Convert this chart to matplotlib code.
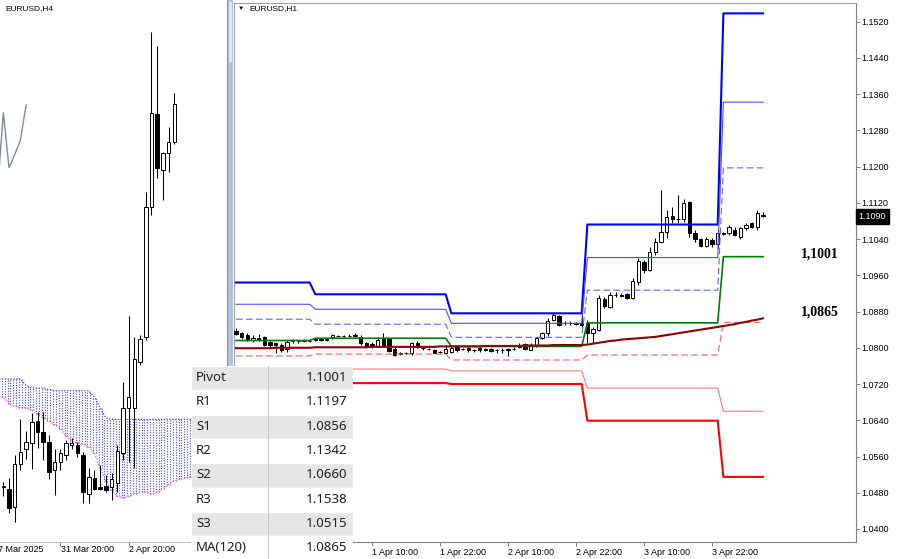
import matplotlib
matplotlib.use('Agg')
import matplotlib.pyplot as plt
import matplotlib.transforms as mtransforms
from matplotlib.patches import Rectangle
import numpy as np

W, H = 900, 559

# ---------------- left pane : EURUSD,H4 (bar 0 = first candle) ----------------
h4_open = [1.0796, 1.0795, 1.0781, 1.0814, 1.0825, 1.0830, 1.0847, 1.0838, 1.0831, 1.0809,
           1.0815, 1.0821, 1.0828, 1.0828, 1.0821, 1.0791, 1.0803, 1.0796, 1.0797, 1.0796,
           1.0799, 1.0822, 1.0857, 1.0857, 1.0892, 1.0911, 1.1011, 1.1082, 1.1039, 1.1052,
           1.1061]
h4_high = [1.0800, 1.0803, 1.0821, 1.0848, 1.0839, 1.0853, 1.0854, 1.0854, 1.0836, 1.0825,
           1.0825, 1.0832, 1.0834, 1.0831, 1.0823, 1.0811, 1.0809, 1.0813, 1.0805, 1.0807,
           1.0828, 1.0877, 1.0927, 1.0911, 1.0913, 1.1022, 1.1145, 1.1134, 1.1053, 1.1072,
           1.1098]
h4_low = [1.0789, 1.0776, 1.0769, 1.0809, 1.0818, 1.0810, 1.0826, 1.0817, 1.0802, 1.0790,
          1.0809, 1.0817, 1.0825, 1.0819, 1.0784, 1.0784, 1.0794, 1.0794, 1.0792, 1.0786,
          1.0792, 1.0817, 1.0815, 1.0811, 1.0890, 1.0909, 1.1005, 1.1033, 1.1016, 1.1038,
          1.1059]
h4_close = [1.0797, 1.0780, 1.0814, 1.0823, 1.0831, 1.0846, 1.0838, 1.0831, 1.0808, 1.0815,
            1.0822, 1.0830, 1.0830, 1.0822, 1.0792, 1.0804, 1.0795, 1.0795, 1.0794, 1.0802,
            1.0824, 1.0857, 1.0865, 1.0894, 1.0910, 1.1011, 1.1083, 1.1041, 1.1052, 1.1061,
            1.1090]
h4_tick_bars = [-2, 10, 22]
h4_tick_labels = ['27 Mar 2025', '31 Mar 20:00', '2 Apr 20:00']

# ichimoku cloud, bars -1..39
kumo_first = -1
span_a = [1.0879, 1.0879, 1.0879, 1.0879, 1.0879, 1.0874, 1.0872, 1.0872, 1.0872, 1.0871,
          1.0870, 1.0870, 1.0870, 1.0870, 1.0870, 1.0870, 1.0870, 1.0865, 1.0857, 1.0849,
          1.0848, 1.0848, 1.0848, 1.0848, 1.0848, 1.0848, 1.0848, 1.0848, 1.0848, 1.0848,
          1.0848, 1.0848, 1.0848, 1.0848, 1.0848, 1.0848, 1.0848, 1.0848, 1.0848, 1.0848,
          1.0848]
span_b = [1.0865, 1.0865, 1.0860, 1.0858, 1.0857, 1.0857, 1.0855, 1.0852, 1.0849, 1.0847,
          1.0844, 1.0841, 1.0835, 1.0831, 1.0830, 1.0829, 1.0827, 1.0822, 1.0811, 1.0800,
          1.0794, 1.0789, 1.0788, 1.0789, 1.0791, 1.0792, 1.0792, 1.0791, 1.0792, 1.0795,
          1.0798, 1.0801, 1.0802, 1.0803, 1.0804, 1.0804, 1.0804, 1.0804, 1.0804, 1.0804,
          1.0804]
chikou_bars = [-1, 0, 1, 2, 3, 4]
chikou = [1.1024, 1.1083, 1.1041, 1.1051, 1.1062, 1.1089]

# ---------------- right pane : EURUSD,H1 (bar 0 = 1 Apr 10:00) ----------------
h1_first = -24
h1_open = [1.0838, 1.0832, 1.0828, 1.0817, 1.0821, 1.0824, 1.0813, 1.0811, 1.0806, 1.0797,
           1.0815, 1.0814, 1.0815, 1.0816, 1.0817, 1.0819, 1.0818, 1.0823, 1.0827, 1.0826,
           1.0827, 1.0827, 1.0824, 1.0811, 1.0808, 1.0802, 1.0820, 1.0819, 1.0797, 1.0788,
           1.0788, 1.0788, 1.0811, 1.0800, 1.0798, 1.0795, 1.0790, 1.0789, 1.0791, 1.0801,
           1.0797, 1.0799, 1.0794, 1.0799, 1.0798, 1.0798, 1.0794, 1.0795, 1.0795, 1.0797,
           1.0806, 1.0808, 1.0795, 1.0804, 1.0821, 1.0832, 1.0861, 1.0869, 1.0855, 1.0854,
           1.0854, 1.0855, 1.0855, 1.0832, 1.0839, 1.0907, 1.0891, 1.0916, 1.0916, 1.0919,
           1.0909, 1.0946, 1.0990, 1.0972, 1.1012, 1.1034, 1.1056, 1.1091, 1.1084, 1.1084,
           1.1122, 1.1054, 1.1039, 1.1025, 1.1038, 1.1029, 1.1052, 1.1053, 1.1061, 1.1045,
           1.1064, 1.1075, 1.1067, 1.1093]
h1_high = [1.0843, 1.0835, 1.0832, 1.0828, 1.0830, 1.0826, 1.0817, 1.0813, 1.0810, 1.0817,
           1.0819, 1.0818, 1.0819, 1.0819, 1.0821, 1.0821, 1.0821, 1.0830, 1.0829, 1.0829,
           1.0830, 1.0833, 1.0828, 1.0813, 1.0813, 1.0823, 1.0832, 1.0821, 1.0801, 1.0791,
           1.0791, 1.0813, 1.0815, 1.0802, 1.0800, 1.0797, 1.0793, 1.0806, 1.0806, 1.0806,
           1.0800, 1.0801, 1.0797, 1.0801, 1.0800, 1.0800, 1.0797, 1.0799, 1.0799, 1.0802,
           1.0811, 1.0811, 1.0810, 1.0824, 1.0835, 1.0865, 1.0876, 1.0872, 1.0860, 1.0860,
           1.0857, 1.0925, 1.0861, 1.0846, 1.0916, 1.0913, 1.0924, 1.0922, 1.0921, 1.0921,
           1.0953, 1.0998, 1.0994, 1.1023, 1.1042, 1.1148, 1.1104, 1.1111, 1.1137, 1.1128,
           1.1125, 1.1060, 1.1043, 1.1045, 1.1042, 1.1060, 1.1056, 1.1071, 1.1067, 1.1067,
           1.1076, 1.1078, 1.1103, 1.1100]
h1_low = [1.0828, 1.0819, 1.0816, 1.0813, 1.0816, 1.0804, 1.0802, 1.0788, 1.0791, 1.0791,
          1.0811, 1.0811, 1.0813, 1.0813, 1.0815, 1.0816, 1.0816, 1.0820, 1.0824, 1.0824,
          1.0825, 1.0824, 1.0806, 1.0802, 1.0800, 1.0801, 1.0801, 1.0790, 1.0782, 1.0784,
          1.0786, 1.0784, 1.0800, 1.0796, 1.0795, 1.0788, 1.0788, 1.0788, 1.0788, 1.0791,
          1.0795, 1.0791, 1.0791, 1.0791, 1.0792, 1.0790, 1.0788, 1.0788, 1.0782, 1.0794,
          1.0799, 1.0795, 1.0794, 1.0802, 1.0819, 1.0826, 1.0860, 1.0848, 1.0850, 1.0850,
          1.0850, 1.0846, 1.0810, 1.0810, 1.0838, 1.0887, 1.0887, 1.0912, 1.0912, 1.0907,
          1.0907, 1.0939, 1.0966, 1.0970, 1.1005, 1.1031, 1.1042, 1.1076, 1.1075, 1.1078,
          1.1045, 1.1034, 1.1022, 1.1022, 1.1023, 1.1020, 1.1049, 1.1049, 1.1047, 1.1039,
          1.1060, 1.1064, 1.1060, 1.1089]
h1_close = [1.0830, 1.0824, 1.0819, 1.0821, 1.0820, 1.0806, 1.0806, 1.0806, 1.0795, 1.0813,
            1.0814, 1.0815, 1.0816, 1.0816, 1.0819, 1.0818, 1.0819, 1.0828, 1.0826, 1.0827,
            1.0827, 1.0829, 1.0810, 1.0804, 1.0803, 1.0818, 1.0803, 1.0793, 1.0784, 1.0787,
            1.0789, 1.0810, 1.0802, 1.0799, 1.0797, 1.0789, 1.0791, 1.0797, 1.0799, 1.0795,
            1.0798, 1.0794, 1.0795, 1.0794, 1.0794, 1.0793, 1.0795, 1.0796, 1.0797, 1.0798,
            1.0801, 1.0797, 1.0804, 1.0821, 1.0832, 1.0860, 1.0872, 1.0850, 1.0854, 1.0855,
            1.0852, 1.0850, 1.0832, 1.0841, 1.0909, 1.0892, 1.0916, 1.0917, 1.0915, 1.0909,
            1.0947, 1.0992, 1.0972, 1.1012, 1.1034, 1.1056, 1.1089, 1.1084, 1.1085, 1.1120,
            1.1053, 1.1039, 1.1025, 1.1039, 1.1029, 1.1053, 1.1053, 1.1066, 1.1049, 1.1064,
            1.1071, 1.1067, 1.1097, 1.1090]
ma120 = [1.0799, 1.0799, 1.0799, 1.0799, 1.0799, 1.0799, 1.0799, 1.0800, 1.0800, 1.0800,
         1.0800, 1.0800, 1.0800, 1.0800, 1.0801, 1.0801, 1.0801, 1.0801, 1.0801, 1.0801,
         1.0801, 1.0801, 1.0801, 1.0801, 1.0802, 1.0802, 1.0802, 1.0802, 1.0802, 1.0802,
         1.0802, 1.0802, 1.0802, 1.0802, 1.0802, 1.0802, 1.0803, 1.0803, 1.0803, 1.0803,
         1.0803, 1.0803, 1.0803, 1.0803, 1.0804, 1.0804, 1.0804, 1.0804, 1.0804, 1.0804,
         1.0804, 1.0805, 1.0805, 1.0805, 1.0805, 1.0805, 1.0806, 1.0806, 1.0806, 1.0806,
         1.0806, 1.0806, 1.0807, 1.0809, 1.0811, 1.0813, 1.0815, 1.0816, 1.0818, 1.0819,
         1.0820, 1.0821, 1.0822, 1.0823, 1.0824, 1.0826, 1.0828, 1.0830, 1.0832, 1.0834,
         1.0836, 1.0838, 1.0840, 1.0842, 1.0844, 1.0846, 1.0848, 1.0850, 1.0852, 1.0855,
         1.0857, 1.0860, 1.0862, 1.0865]

# daily pivot levels: 31 Mar, 1 Apr, 2 Apr, 3 Apr, 4 Apr
day_start_bars = [-10, 14, 38, 62]
r3 = [1.0944, 1.0918, 1.0876, 1.1072, 1.1538]
r2 = [1.0896, 1.0885, 1.0854, 1.0999, 1.1342]
r1 = [1.0863, 1.0852, 1.0823, 1.0927, 1.1197]
pivot = [1.0816, 1.0821, 1.0803, 1.0855, 1.1001]
s1 = [1.0782, 1.0786, 1.0773, 1.0784, 1.0856]
s2 = [1.0756, 1.0753, 1.0749, 1.0711, 1.0660]
s3 = [1.0723, 1.0722, 1.0720, 1.0639, 1.0515]

h1_tick_bars = [0, 12, 24, 36, 48, 60]
h1_tick_labels = ['1 Apr 10:00', '1 Apr 22:00', '2 Apr 10:00',
                  '2 Apr 22:00', '3 Apr 10:00', '3 Apr 22:00']
price_ticks = [1.0400, 1.0480, 1.0560, 1.0640, 1.0720, 1.0800, 1.0880, 1.0960,
               1.1040, 1.1120, 1.1200, 1.1280, 1.1360, 1.1440, 1.1520]

table_names = ['Pivot', 'R1', 'S1', 'R2', 'S2', 'R3', 'S3', 'MA(120)']
table_values = [pivot[-1], r1[-1], s1[-1], r2[-1], s2[-1], r3[-1], s3[-1], ma120[-1]]


plt.rcParams['font.family'] = ['Liberation Sans', 'DejaVu Sans']


def px_box(x0, y0, x1, y1):
    # pixel box (top-left origin) -> figure fraction rect
    return [x0 / W, 1 - y1 / H, (x1 - x0) / W, (y1 - y0) / H]


def candles(ax, first, o, h, l, c, width):
    o, h, l, c = map(np.asarray, (o, h, l, c))
    x = first + np.arange(len(o))
    ax.vlines(x, l, h, color='black', lw=0.75, zorder=2)
    colors = np.where(c >= o, 'white', 'black')
    ax.bar(x, np.abs(c - o), bottom=np.minimum(o, c), width=width, color=colors,
           edgecolor='black', lw=0.7, zorder=3)


fig = plt.figure(figsize=(W / 100, H / 100), dpi=100)
fig.patch.set_facecolor('white')

# ---------------- left pane ----------------
axl = fig.add_axes(px_box(0, 2, 227, 542))
for s in axl.spines.values():
    s.set_visible(False)
axl.spines['bottom'].set_visible(True)
axl.spines['bottom'].set_color('#b0b0b0')
axl.spines['bottom'].set_linewidth(0.6)
axl.set_yticks([])
axl.set_xticks(h4_tick_bars[1:])
axl.set_xticklabels([])
axl.tick_params(axis='x', length=3, width=0.7, color='#808080')
for b, lab in zip(h4_tick_bars, h4_tick_labels):
    # the first label starts left of the pane and is cut, as in the terminal
    axl.annotate(lab, xy=(b, 0), xycoords=('data', 'axes fraction'), xytext=(0.5, -5.2),
                 textcoords='offset points', ha='left', va='center', fontsize=6.5,
                 annotation_clip=False)

kx = kumo_first + np.arange(len(span_a))
ka = np.asarray(span_a)
kb = np.asarray(span_b)
hx = np.concatenate([kx - 0.25, kx + 0.25])
axl.vlines(hx, np.tile(kb, 2), np.tile(ka, 2), colors='#4a4aff',
           linestyles=[(0, (1, 1.3))], lw=0.8, zorder=1)
axl.plot(kx, ka, color='#3a3aff', ls=(0, (1, 1.3)), lw=0.9, zorder=1)
axl.plot(kx, kb, color='#ff3cff', ls=(0, (1, 1.3)), lw=0.9, zorder=1)
axl.plot(chikou_bars, chikou, color='#7d8ca3', lw=1.0, zorder=1)

candles(axl, 0, h4_open, h4_high, h4_low, h4_close, 0.62)
axl.set_xlim(-0.58, 39.25)
axl.set_ylim(1.0754, 1.1168)
fig.text(5 / W, 1 - 8.5 / H, 'EURUSD,H4', fontsize=6, va='center', ha='left')

# divider between the two panes
fig.patches.append(Rectangle((227 / W, 0), 6 / W, 1, transform=fig.transFigure,
                             facecolor='#b3c2db', edgecolor='none'))
fig.patches.append(Rectangle((229 / W, 1 - 62 / H), 3 / W, 60 / H, transform=fig.transFigure,
                             facecolor='#dde5f2', edgecolor='none'))
fig.lines.append(plt.Line2D([227 / W, 227 / W], [0, 1], transform=fig.transFigure,
                            color='#8896ad', lw=0.8))

# ---------------- right pane ----------------
axr = fig.add_axes(px_box(234, 3, 856, 542))
axr.yaxis.tick_right()
axr.set_yticks(price_ticks)
axr.set_yticklabels(['%.4f' % p for p in price_ticks])
axr.set_xticks(h1_tick_bars)
axr.set_xticklabels(h1_tick_labels, ha='left')
axr.tick_params(length=3, width=0.7, pad=1, labelsize=6.5, color='#808080')
axr.spines['left'].set_color('#a0a0a0')
axr.spines['top'].set_color('#a0a0a0')
axr.spines['right'].set_color('#808080')
axr.spines['bottom'].set_color('#808080')
for s in axr.spines.values():
    s.set_linewidth(0.8)

candles(axr, h1_first, h1_open, h1_high, h1_low, h1_close, 0.6)

bars = h1_first + np.arange(len(h1_close))
day = np.searchsorted(day_start_bars, bars, side='right')
dash = (0, (6, 3))
level_styles = [(r3, '#0000ff', 1.5, '-'), (r2, '#4d4dff', 0.8, '-'), (r1, '#6262ff', 0.8, dash),
                (pivot, '#008000', 1.2, '-'), (s1, '#ff5c5c', 0.8, dash),
                (s2, '#ff7a7a', 0.8, '-'), (s3, '#ff0000', 1.5, '-')]
for lev, col, lw, ls in level_styles:
    axr.plot(bars, np.asarray(lev)[day], color=col, lw=lw, ls=ls, zorder=4)
axr.plot(bars, ma120, color='#8b0000', lw=1.5, zorder=4)
axr.set_xlim(-24.35, 85.4)
axr.set_ylim(1.03713, 1.15609)

axr.annotate(('%.4f' % pivot[-1]).replace('.', ','), xy=(79, pivot[-1]), xytext=(0, 2),
             textcoords='offset points', ha='center', va='center',
             family='Liberation Serif', fontweight='bold', fontsize=10)
axr.annotate(('%.4f' % ma120[-1]).replace('.', ','), xy=(79, ma120[-1]), xytext=(0, 4.8),
             textcoords='offset points', ha='center', va='center',
             family='Liberation Serif', fontweight='bold', fontsize=10)

tr = mtransforms.blended_transform_factory(axr.transAxes, axr.transData)
axr.text(1.004, h1_close[-1], '%.4f' % h1_close[-1], transform=tr, color='white',
         fontsize=6.5, va='center', ha='left', clip_on=False,
         bbox=dict(boxstyle='square,pad=0.3', fc='black', ec='black'))

fig.text(238 / W, 1 - 8.5 / H, '\u25bc', fontsize=4.5, va='center', ha='left')
fig.text(249 / W, 1 - 8.5 / H, 'EURUSD,H1', fontsize=6, va='center', ha='left')

# ---------------- pivot table ----------------
axt = fig.add_axes(px_box(191, 366, 353, 559), zorder=10)
axt.set_xlim(0, 162)
axt.set_ylim(193, 0)
axt.axis('off')
row_h = 24.3
for r, (name, val) in enumerate(zip(table_names, table_values)):
    y0 = r * row_h
    fc = '#e6e6e6' if r % 2 == 0 else 'white'
    axt.add_patch(Rectangle((0, y0), 162, row_h, facecolor=fc, edgecolor='white', lw=1))
    axt.text(5, y0 + row_h / 2 - 0.5, name, ha='left', va='center', fontsize=9.5,
             family='Noto Sans', color='#202020')
    axt.text(156, y0 + row_h / 2 - 0.5, '%.4f' % val, ha='right', va='center', fontsize=9.5,
             family='Noto Sans', color='#202020')
axt.plot([76.5, 76.5], [0, 193], color='#c8c8c8', lw=0.8)

fig.savefig('out.png', dpi=100)
